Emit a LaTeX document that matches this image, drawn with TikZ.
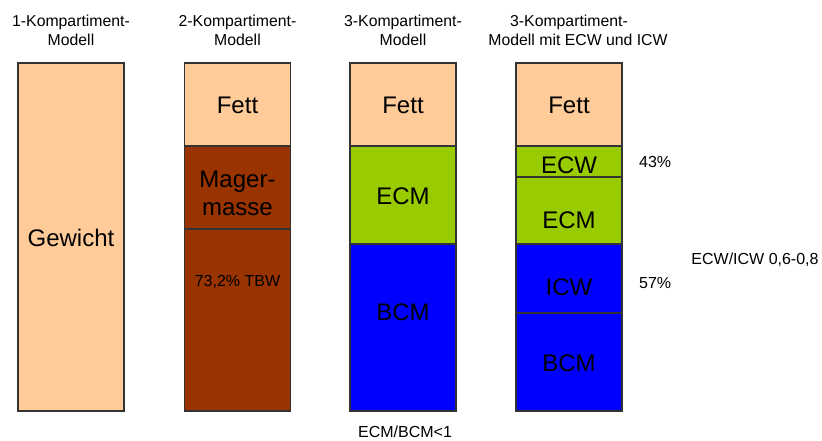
\documentclass[tikz,border=0pt]{standalone}
\usepackage{fontspec}
\setmainfont{Liberation Sans}
\definecolor{fettcolor}{RGB}{255,204,153}
\definecolor{magercolor}{RGB}{153,51,0}
\definecolor{ecmcolor}{RGB}{153,204,0}
\definecolor{bcmcolor}{RGB}{0,0,255}
\definecolor{edgecolor}{gray}{0.2}

\begin{document}
\begin{tikzpicture}[
	x=1pt, y=-1pt,
	segment/.style={draw=edgecolor, line width=1.1pt, minimum width=106pt, inner sep=0pt, outer sep=0pt},
	title/.style={font=\fontsize{15.8}{19}\selectfont, align=center},
	big/.style={font=\fontsize{24}{28}\selectfont, align=center},
	note/.style={font=\fontsize{16}{19}\selectfont},
]
\useasboundingbox (0,0) rectangle (822,441);
% \segment[fill](name){x}{top}{bottom}{text y}{text}
% Box of one compartment, text placed separately at 'text y'.
\def\segment[#1](#2)#3#4#5#6#7{
	\node[segment, fill=#1, minimum height={(#5-#4)*1pt}, anchor=north]
		at (#3,#4) (#2) {};
	\node[big] at (#3,#6) (#2text) {#7};
}
	% 1-Kompartiment
	\node[title] at (71,30.5) (titleA) {1-Kompartiment-\\Modell};
	\segment[fettcolor](gewicht){71}{63}{411}{238}{Gewicht}

	% 2-Kompartiment
	\node[title] at (237.5,30.5) (titleB) {2-Kompartiment-\\Modell};
	\segment[fettcolor](fettB){237.5}{63}{146}{105}{Fett}
	\segment[magercolor](mager){237.5}{146}{229}{193}{Mager-\\masse}
	\segment[magercolor](tbw){237.5}{229}{411}{282}{}
	\node[note] at (237.5,282) (tbwtext) {73,2\% TBW};

	% 3-Kompartiment
	\node[title] at (403,30.5) (titleC) {3-Kompartiment-\\Modell};
	\segment[fettcolor](fettC){403}{63}{146}{105}{Fett}
	\segment[ecmcolor](ecmC){403}{146}{244}{196}{ECM}
	\segment[bcmcolor](bcmC){403}{244}{411}{312}{BCM}
	\node[note] at (405,432) (ratioC) {ECM/BCM<1};

	% 3-Kompartiment mit ECW und ICW
	\node[title] at (578,30.5) (titleD) {3-Kompartiment-\hspace*{18pt}\\Modell mit ECW und ICW};
	\segment[fettcolor](fettD){569}{63}{146}{105}{Fett}
	\segment[ecmcolor](ecw){569}{146}{177}{165}{ECW}
	\segment[ecmcolor](ecmD){569}{177}{244}{220}{ECM}
	\segment[bcmcolor](icw){569}{244}{313}{287}{ICW}
	\segment[bcmcolor](bcmD){569}{313}{411}{363}{BCM}
	\node[note, anchor=west, inner sep=0pt] at (639,162) (ecwpct) {43\%};
	\node[note, anchor=west, inner sep=0pt] at (639,283) (icwpct) {57\%};
	\node[note] at (755,260) (ratioD) {ECW/ICW 0,6-0,8};
\end{tikzpicture}
\end{document}
